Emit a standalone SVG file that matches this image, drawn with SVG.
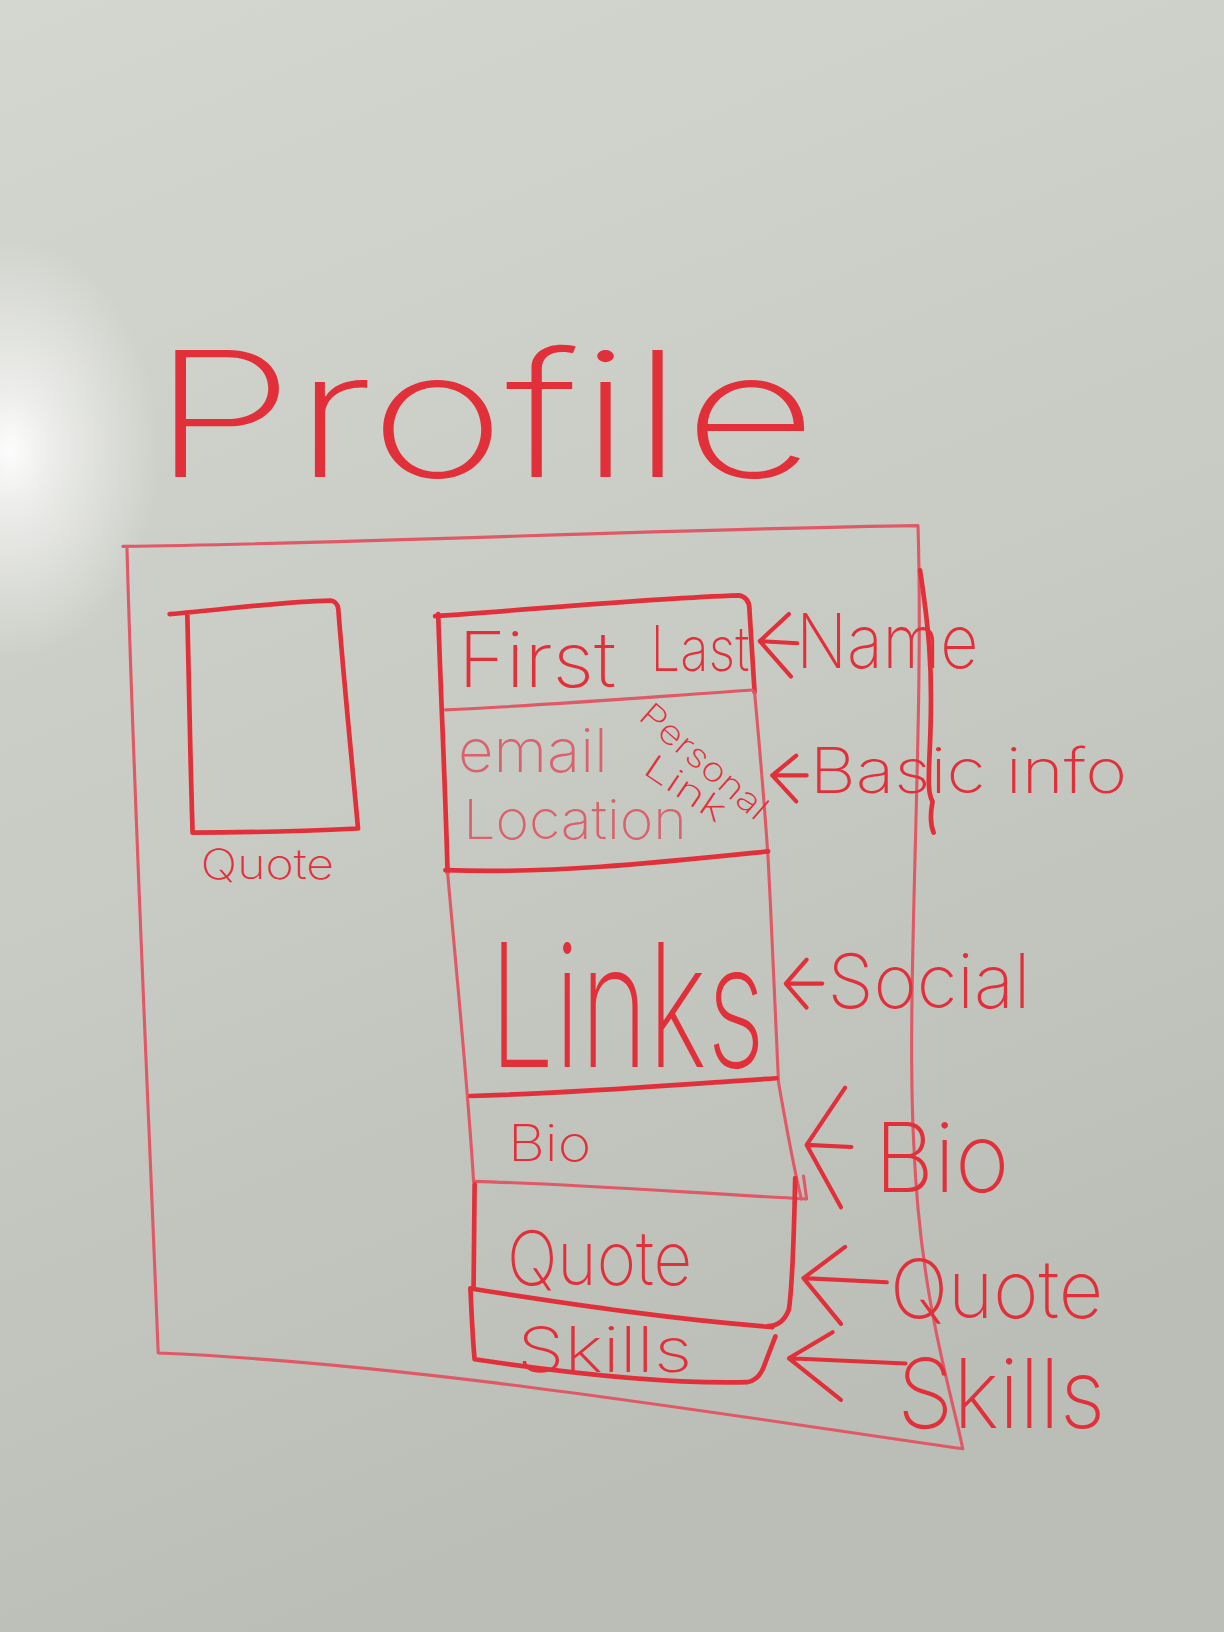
<svg xmlns="http://www.w3.org/2000/svg" width="1224" height="1632" viewBox="0 0 1224 1632">
  <defs>
    <linearGradient id="board" x1="0" y1="0" x2="0.3" y2="1">
      <stop offset="0" stop-color="#d4d6d0"/>
      <stop offset="0.5" stop-color="#c9ccc5"/>
      <stop offset="1" stop-color="#bbbeb7"/>
    </linearGradient>
    <radialGradient id="glare" cx="10" cy="450" r="150" gradientUnits="userSpaceOnUse" gradientTransform="translate(10 450) scale(1 1.4) translate(-10 -450)">
      <stop offset="0" stop-color="#ffffff" stop-opacity="0.95"/>
      <stop offset="0.3" stop-color="#ffffff" stop-opacity="0.6"/>
      <stop offset="1" stop-color="#ffffff" stop-opacity="0"/>
    </radialGradient>
    <style>
      .ink { fill: none; stroke: #e2303b; stroke-width: 4.5; stroke-linecap: round; stroke-linejoin: round; }
      .thin { fill: none; stroke: #df5a66; stroke-width: 3; stroke-linecap: round; stroke-linejoin: round; }
      .hand { font-family: Inter, Lato, "Open Sans", "Liberation Sans", sans-serif; font-weight: 200; fill: #e2303b; }
      .pale { fill: #d9626c; }
      .arrow { fill: none; stroke: #e2303b; stroke-width: 4; stroke-linecap: round; stroke-linejoin: round; }
    </style>
  </defs>

  <!-- whiteboard surface -->
  <rect width="1224" height="1632" fill="url(#board)"/>
  <rect width="1224" height="1632" fill="url(#glare)"/>

  <g transform="scale(1.040816)">
    <!-- page title -->
    <g id="title">
      <text class="hand" x="145" y="458" font-size="168" textLength="640" lengthAdjust="spacingAndGlyphs">Profile</text>
    </g>

    <!-- outer page frame -->
    <g id="page-frame">
      <path class="thin" d="M118,525 C350,522 650,508 882,505 C888,700 870,950 878,1100 C884,1250 915,1340 925,1392 C700,1360 400,1310 152,1300 C140,1000 128,750 122,527"/>
      <path class="ink" d="M884,548 C892,600 896,640 894,700 C893,740 890,760 896,770 C894,780 893,790 897,800"/>
    </g>

    <!-- profile picture box -->
    <g id="photo">
      <path class="ink" d="M163,590 C220,585 270,578 318,577 Q324,578 325,585 C330,650 338,730 344,796 C300,798 240,800 185,800 C183,730 181,650 180,591"/>
      <text class="hand" x="193" y="845" font-size="40" textLength="128" lengthAdjust="spacingAndGlyphs">Quote</text>
    </g>

    <!-- details column: outline -->
    <g id="column">
      <path class="ink" d="M418,592 C520,585 620,575 710,572 Q720,574 720,585 L725,665"/>
      <path class="thin" d="M725,665 C730,720 735,780 738,825 C742,900 745,980 748,1040 C755,1080 762,1120 770,1152"/>
      <path class="ink" d="M421,590 C424,680 428,760 430,838"/>
      <path class="thin" d="M430,838 C440,950 450,1050 455,1135"/>
    </g>

    <g id="name-section">
      <path class="thin" d="M428,682 C520,678 620,670 723,663"/>
      <text class="hand" x="440" y="660" font-size="74" textLength="152" lengthAdjust="spacingAndGlyphs">First</text>
      <text class="hand" x="625" y="645" font-size="60" textLength="95" lengthAdjust="spacingAndGlyphs">Last</text>
    </g>

    <g id="basic-info-section">
      <text class="hand pale" x="440" y="742" font-size="58" textLength="144" lengthAdjust="spacingAndGlyphs">email</text>
      <text class="hand" font-size="32" transform="translate(612,690) rotate(41)" textLength="152" lengthAdjust="spacingAndGlyphs">Personal</text>
      <text class="hand" font-size="32" transform="translate(616,742) rotate(34)" textLength="88" lengthAdjust="spacingAndGlyphs">Link</text>
      <text class="hand pale" x="445" y="806" font-size="52" textLength="215" lengthAdjust="spacingAndGlyphs">Location</text>
      <path class="ink" d="M428,836 C530,840 640,828 738,818"/>
    </g>

    <g id="social-section">
      <!-- tall, narrow lettering: squeezed horizontally -->
      <text class="hand" transform="translate(470,1025) scale(0.683,1)" font-size="165" textLength="388" lengthAdjust="spacingAndGlyphs">Links</text>
      <path class="ink" d="M452,1053 C560,1050 650,1042 746,1036"/>
    </g>

    <g id="bio-section">
      <text class="hand" x="488" y="1115" font-size="48" textLength="80" lengthAdjust="spacingAndGlyphs">Bio</text>
      <path class="thin" d="M455,1135 C560,1138 660,1146 775,1152 L772,1130"/>
    </g>

    <g id="quote-section">
      <path class="ink" d="M456,1138 L455,1238"/>
      <path class="ink" d="M764,1132 C763,1180 762,1230 758,1258 Q752,1274 738,1274"/>
      <path class="ink" d="M452,1238 C560,1255 650,1268 742,1275"/>
      <text class="hand" x="487" y="1235" font-size="72" textLength="178" lengthAdjust="spacingAndGlyphs">Quote</text>
    </g>

    <g id="skills-section">
      <path class="ink" d="M452,1238 C453,1260 454,1285 456,1306 C550,1320 640,1330 718,1328 Q730,1326 735,1310 L745,1284"/>
      <text class="hand" x="497" y="1318" font-size="60" textLength="168" lengthAdjust="spacingAndGlyphs">Skills</text>
    </g>

    <!-- annotation labels -->
    <g id="label-name"><text class="hand" x="765" y="642" font-size="72" textLength="175" lengthAdjust="spacingAndGlyphs">Name</text></g>
    <g id="label-basic-info"><text class="hand" x="778" y="762" font-size="60" textLength="305" lengthAdjust="spacingAndGlyphs">Basic info</text></g>
    <g id="label-social"><text class="hand" x="795" y="968" font-size="72" textLength="195" lengthAdjust="spacingAndGlyphs">Social</text></g>
    <g id="label-bio"><text class="hand" x="840" y="1145" font-size="92" textLength="130" lengthAdjust="spacingAndGlyphs">Bio</text></g>
    <g id="label-quote"><text class="hand" x="855" y="1266" font-size="78" textLength="205" lengthAdjust="spacingAndGlyphs">Quote</text></g>
    <g id="label-skills"><text class="hand" x="862" y="1372" font-size="92" textLength="200" lengthAdjust="spacingAndGlyphs">Skills</text></g>

    <!-- arrows from labels to sections -->
    <g id="connectors">
      <path class="arrow" d="M766,618 L730,616 M758,590 L730,616 L760,650"/>
      <path class="arrow" d="M775,745 L742,745 M765,726 L742,745 L765,770"/>
      <path class="arrow" d="M790,945 L755,945 M775,922 L755,945 L775,968"/>
      <path class="arrow" d="M818,1102 L775,1100 M812,1045 L775,1100 L808,1160"/>
      <path class="arrow" d="M852,1232 L772,1228 M812,1198 L772,1228 L808,1272"/>
      <path class="arrow" d="M870,1310 L758,1305 M800,1280 L758,1305 L808,1345"/>
    </g>
  </g>
</svg>
